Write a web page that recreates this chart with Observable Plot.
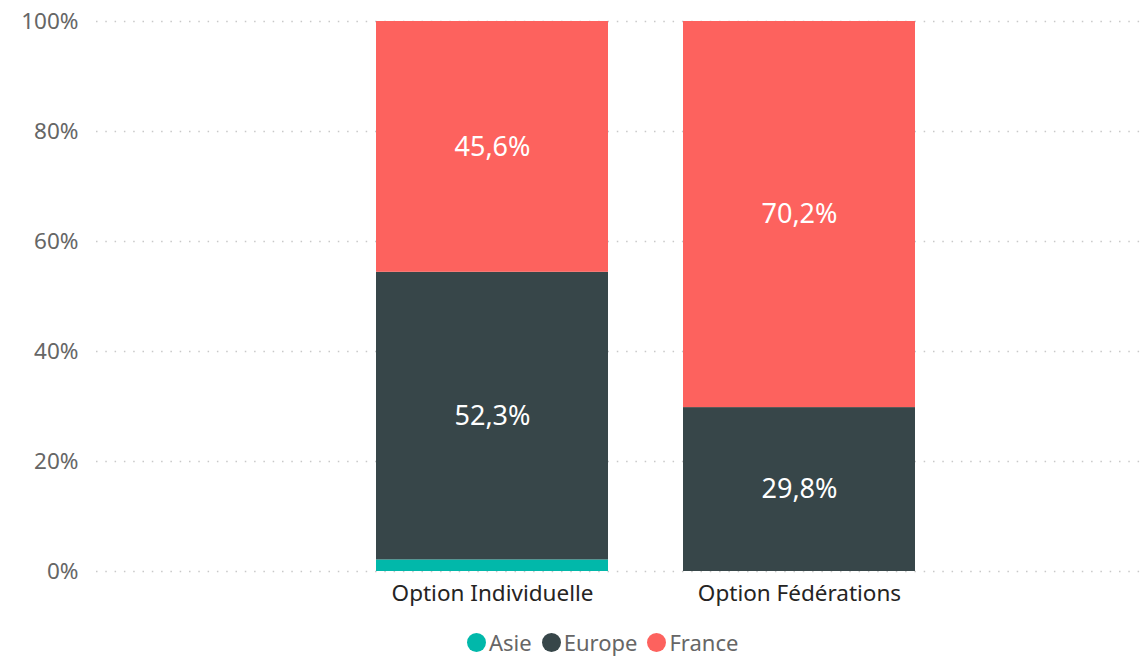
<!DOCTYPE html>
<html><head><meta charset="utf-8">
<script src="https://cdn.jsdelivr.net/npm/d3@7"></script>
<script src="https://cdn.jsdelivr.net/npm/@observablehq/plot@0.6"></script>
<style>
body{margin:0;background:#fff;font-family:"Noto Sans",sans-serif;overflow:hidden;}
#wrap{position:relative;width:1141px;height:658px;}
#legend{position:absolute;left:467px;top:630px;display:flex;align-items:center;font-size:22px;line-height:24px;color:#666;font-family:"Noto Sans",sans-serif;}
#legend .it{display:flex;align-items:center;margin-right:10px;}
#legend .dot{width:19px;height:19px;border-radius:50%;margin-right:3px;}
</style></head>
<body><div id="wrap"><div id="chart"></div><div id="legend"></div></div>
<script>
const categories = ["Option Individuelle", "Option Fédérations"];
const series = ["Asie", "Europe", "France"];
const asie = [2.1, 0];
const europe = [52.3, 29.8];
const france = [45.6, 70.2];
const yTicks = [0, 20, 40, 60, 80, 100];
const colors = ["#01B8AA", "#374649", "#FD625E"];

const values = {Asie: asie, Europe: europe, France: france};
const data = [];
categories.forEach((c, i) => series.forEach(s => data.push({category: c, series: s, value: values[s][i]})));
const fmt = v => v.toFixed(1).replace(".", ",") + "%";

const chart = Plot.plot({
  width: 1141, height: 622,
  marginLeft: 96, marginRight: 0, marginTop: 21, marginBottom: 51,
  style: {fontFamily: "'Noto Sans', sans-serif", background: "#fff", overflow: "visible"},
  x: {domain: categories, range: [375, 916], paddingInner: 0.2435, paddingOuter: 0, label: null},
  y: {domain: [0, 100], label: null},
  color: {domain: series, range: colors},
  marks: [
    Plot.ruleY(yTicks, {stroke: "#c8c8c8", strokeWidth: 1.5, strokeDasharray: "1.5,7.8"}),
    Plot.barY(data, {x: "category", y: "value", fill: "series", order: series}),
    Plot.text(data, Plot.stackY({x: "category", y: "value", z: "series", order: series,
      text: d => d.value > 5 ? fmt(d.value) : "", fill: "white", fontSize: 27})),
    Plot.axisY({ticks: yTicks, tickFormat: d => d + "%", tickSize: 0, tickPadding: 18, fontSize: 22.5, color: "#666", label: null}),
    Plot.axisX({tickSize: 0, tickPadding: 14, fontSize: 22.5, color: "#252423", label: null})
  ]
});
document.getElementById("chart").appendChild(chart);
const lg = document.getElementById("legend");
series.forEach((s, i) => {
  const it = document.createElement("div"); it.className = "it";
  it.innerHTML = `<span class="dot" style="background:${colors[i]}"></span><span>${s}</span>`;
  lg.appendChild(it);
});
</script></body></html>
